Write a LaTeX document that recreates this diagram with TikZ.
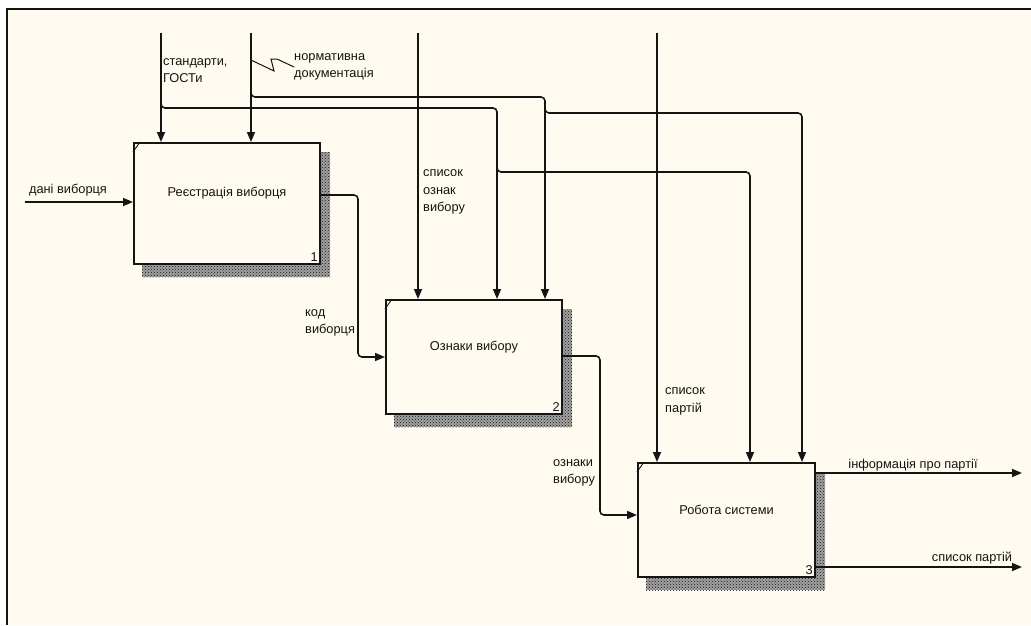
\documentclass[tikz,border=0pt]{standalone}
\usepackage{fontspec}
\setsansfont{Liberation Sans}
\usetikzlibrary{arrows.meta,patterns,backgrounds}
\definecolor{paper}{RGB}{255,251,240}
\definecolor{ink}{RGB}{20,20,20}
\begin{document}
\begin{tikzpicture}[x=1pt,y=-1pt,
  every node/.style={font=\sffamily\fontsize{12.8}{17.5}\selectfont,text=ink},
  func/.style={draw=ink,line width=2pt,fill=paper,rectangle,inner sep=0pt},
  flow/.style={draw=ink,line width=1.6pt,rounded corners=4pt,-{Triangle[length=10pt,width=8pt]}},
  lbl/.style={inner sep=0pt,align=left,anchor=west},
  num/.style={inner sep=3pt,anchor=south east}]
\useasboundingbox (0,0) rectangle (1031,625);
% function blocks
\node[func,minimum width=186pt,minimum height=121pt] (reg) at (227,203.5) {};
\node[func,minimum width=176pt,minimum height=114pt] (ozn) at (474,357) {};
\node[func,minimum width=177pt,minimum height=114pt] (rob) at (726.5,520) {};
\node (regt) at ([yshift=10pt]reg.center) {Реєстрація виборця};
\node (oznt) at ([yshift=10pt]ozn.center) {Ознаки вибору};
\node (robt) at ([yshift=10pt]rob.center) {Робота системи};
\node[num] (regn) at (reg.south east) {1};
\node[num] (oznn) at (ozn.south east) {2};
\node[num] (robn) at (rob.south east) {3};
\foreach \b in {reg,ozn,rob}
  \draw[ink,line width=0.9pt] ([yshift=-10pt]\b.north west) -- ([xshift=7pt]\b.north west);
% sheet and shadows
\begin{scope}[on background layer]
\fill[white] (0,0) rectangle (1031,625);
\fill[paper] (7,9) rectangle (1031,625);
\draw[ink,line width=1.8pt] (7,625) -- (7,9) -- (1031,9);
\foreach \b in {reg,ozn,rob}{
  \fill[ink!40] ([xshift=9pt,yshift=-10pt]\b.north west) rectangle ([xshift=9pt,yshift=-12pt]\b.south east);
  \fill[pattern=crosshatch dots,pattern color=ink] ([xshift=9pt,yshift=-10pt]\b.north west) rectangle ([xshift=9pt,yshift=-12pt]\b.south east);}
\end{scope}
% controls
\coordinate (stdtop) at (161,33);
\coordinate (normtop) at (251,33);
\coordinate (oznktop) at (418,33);
\coordinate (parttop) at (657,33);
\draw[flow] (stdtop) -- (stdtop |- reg.north);
\draw[flow] (normtop) -- (normtop |- reg.north);
\draw[flow] (oznktop) -- (oznktop |- ozn.north);
\draw[flow] (parttop) -- (parttop |- rob.north);
% branches
\coordinate (stdk) at (497,108);
\coordinate (normk) at (545,97);
\coordinate (stdk2) at (750,172);
\coordinate (normk2) at (802,113);
\draw[flow] (161,102) -- (161,108) -- (stdk) -- (stdk |- ozn.north);
\draw[flow] (251,91) -- (251,97) -- (normk) -- (normk |- ozn.north);
\draw[flow] (497,166) -- (497,172) -- (stdk2) -- (stdk2 |- rob.north);
\draw[flow] (545,107) -- (545,113) -- (normk2) -- (normk2 |- rob.north);
% inputs and outputs
\coordinate (danin) at (25,202);
\coordinate (kodk) at (358,195);
\coordinate (kodk2) at (358,357);
\coordinate (ozk) at (600,356);
\coordinate (ozk2) at (600,515);
\coordinate (infend) at (1022,473);
\coordinate (spend) at (1022,567);
\draw[flow] (danin) -- (danin -| reg.west);
\draw[flow] (kodk -| reg.east) -- (kodk) -- (kodk2) -- (kodk2 -| ozn.west);
\draw[flow] (ozk -| ozn.east) -- (ozk) -- (ozk2) -- (ozk2 -| rob.west);
\draw[flow] (infend -| rob.east) -- (infend);
\draw[flow] (spend -| rob.east) -- (spend);
% labels
\node (danit) at (68,190) {дані виборця};
\node[lbl] (stdt) at (163,70.5) {стандарти,\\ГОСТи};
\node[lbl] (normt) at (294,67) {нормативна\\документація};
\draw[ink,line width=1pt] (251,60) -- (274,71) -- (271,59) -- (277,59) -- (normt.west);
\node[lbl] (oznkt) at (423,192) {список\\ознак\\вибору};
\node[lbl] (partt) at (665,401.5) {список\\партій};
\node[lbl] (kodt) at (305,323) {код\\виборця};
\node[lbl] (ozt) at (553,473) {ознаки\\вибору};
\node (inft) at (913,465) {інформація про партії};
\node (spt) at (972,558) {список партій};
\end{tikzpicture}
\end{document}
